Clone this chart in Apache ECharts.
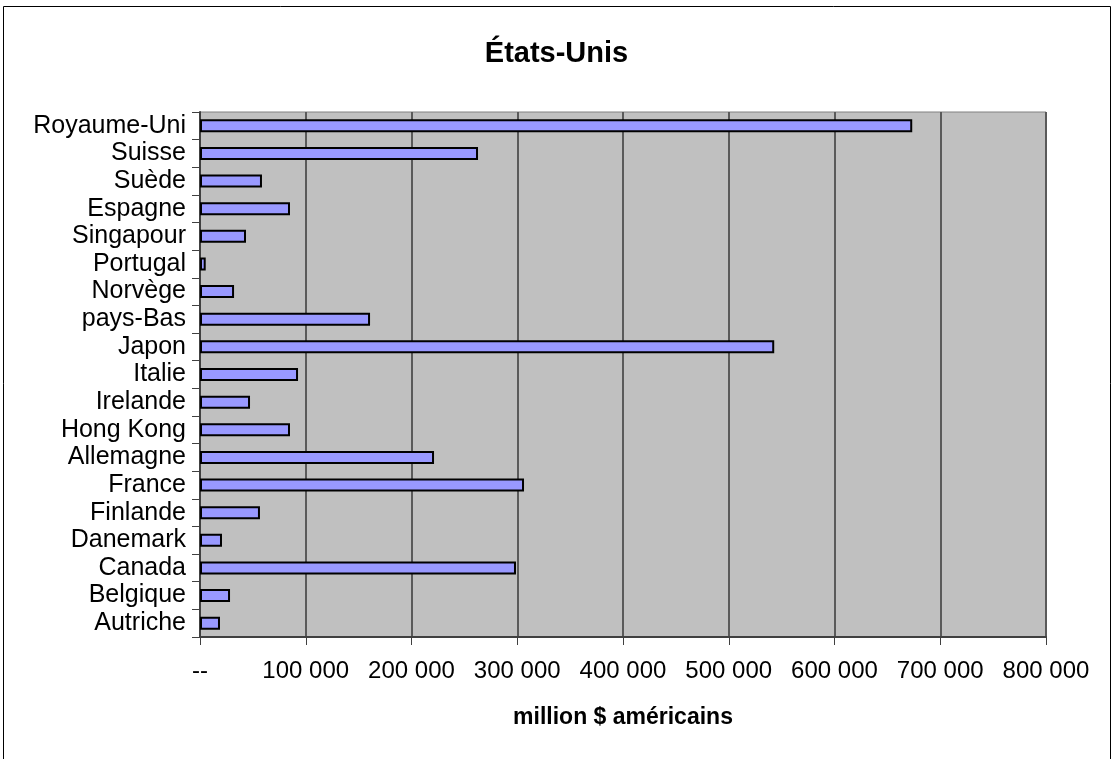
<!DOCTYPE html>
<html>
<head>
<meta charset="utf-8">
<script src="https://cdn.jsdelivr.net/npm/echarts@6/dist/echarts.min.js"></script>
<style>
html,body{margin:0;padding:0;background:#fff;}
#c{width:1113px;height:759px;}
</style>
</head>
<body>
<div id="c"></div>
<script>
const categories = ['Autriche','Belgique','Canada','Danemark','Finlande','France','Allemagne','Hong Kong','Irelande','Italie','Japon','pays-Bas','Norvège','Portugal','Singapour','Espagne','Suède','Suisse','Royaume-Uni'];
const values = [18900,28400,298800,20800,56700,306400,221300,85100,47300,92700,543000,160800,32200,5400,43500,85100,58600,262900,673500];
const titleText = 'États-Unis';
const axisName = 'million $ américains';

const chart = echarts.init(document.getElementById('c'), null, {renderer:'canvas'});
function fmt(v){
  if (v === 0) return '--';
  return String(v).replace(/\B(?=(\d{3})+(?!\d))/g, ' ');
}
chart.setOption({
  animation:false,
  backgroundColor:'#ffffff',
  title:{
    text:titleText,
    left:'center',
    top:34,
    textStyle:{fontFamily:'Liberation Sans, Arial, sans-serif',fontSize:29,fontWeight:'bold',color:'#000'}
  },
  graphic:[{
    type:'rect',
    shape:{x:3.5,y:6.5,width:1107,height:760},
    style:{fill:'none',stroke:'#000',lineWidth:1},
    silent:true,
    z:-10
  }],
  grid:{
    left:200,right:67,top:112,bottom:122,
    show:true,
    backgroundColor:'#C0C0C0',
    borderColor:'#808080',
    borderWidth:1
  },
  xAxis:{
    type:'value',
    min:0,max:800000,interval:100000,
    name:axisName,
    nameLocation:'middle',
    nameGap:69,
    nameTextStyle:{fontFamily:'Liberation Sans, Arial, sans-serif',fontSize:23,fontWeight:'bold',color:'#000'},
    axisLine:{show:true,lineStyle:{color:'#404040',width:2}},
    axisTick:{show:true,length:8,lineStyle:{color:'#404040',width:1}},
    axisLabel:{
      formatter:fmt,
      margin:22,
      fontFamily:'Liberation Sans, Arial, sans-serif',fontSize:24,color:'#000'
    },
    splitLine:{show:true,lineStyle:{color:'#5a5a5a',width:2}}
  },
  yAxis:{
    type:'category',
    data:categories,
    axisLine:{show:true,lineStyle:{color:'#404040',width:2}},
    axisTick:{show:true,length:8,interval:0,alignWithLabel:false,lineStyle:{color:'#404040',width:1}},
    axisLabel:{
      interval:0,
      margin:14,
      fontFamily:'Liberation Sans, Arial, sans-serif',fontSize:25,color:'#000'
    },
    splitLine:{show:false}
  },
  series:[{
    type:'bar',
    data:values,
    barWidth:13,
    itemStyle:{color:'#9999FF',borderColor:'#000',borderWidth:2}
  }]
});
</script>
</body>
</html>
